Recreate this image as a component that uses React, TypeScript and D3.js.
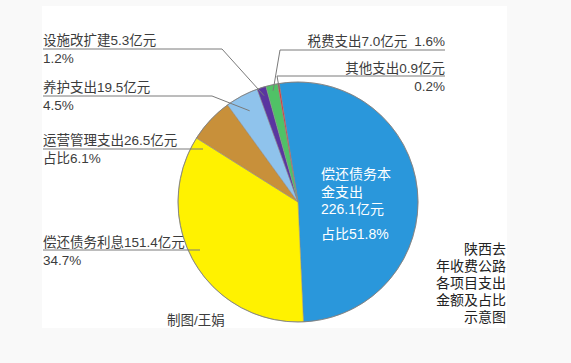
import React from "react";
import { pie, arc } from "d3";

// 陕西去年收费公路各项目支出 (亿元)
const items = ["偿还债务本金支出", "偿还债务利息", "运营管理支出", "养护支出", "设施改扩建", "税费支出", "其他支出"];
const amounts = [226.1, 151.4, 26.5, 19.5, 5.3, 7.0, 0.9];
const shares = ["占比51.8%", "34.7%", "占比6.1%", "4.5%", "1.2%", "1.6%", "0.2%"];
const colors = ["#2a97db", "#fff200", "#c8903a", "#8fc3ec", "#5a35a0", "#50c266", "#e42a2a"];
const titleLines = ["陕西去", "年收费公路", "各项目支出", "金额及占比", "示意图"];
const credit = "制图/王娟";

const W = 571;
const H = 363;
const cx = 298;
const cy = 202;
const R = 120;
const FONT = "'Liberation Sans', 'Noto Sans CJK SC', sans-serif";
const TXT = "#3c3c3c";
const LINE = "#7a7a7a";
const FS = 13.5;

export default function App() {
  const slices = pie<number>()
    .sort(null)
    .startAngle((-9 * Math.PI) / 180)
    .endAngle(((360 - 9) * Math.PI) / 180)(amounts);
  const arcGen = arc<any>().innerRadius(0).outerRadius(R);

  // point inside a slice at a fraction of the radius
  const anchor = (i: number, f: number) => {
    const s = slices[i];
    const a = (s.startAngle + s.endAngle) / 2;
    return [cx + Math.sin(a) * R * f, cy - Math.cos(a) * R * f];
  };

  // left side labels: index, baseline of first line, underline y, underline end x
  const leftLabels = [
    { i: 4, y: 45, ly: 49, lx: 222, f: 0.93 },
    { i: 3, y: 92, ly: 96, lx: 212, f: 0.86 },
    { i: 2, y: 145, ly: 149, lx: 203, f: 0 },
    { i: 1, y: 247, ly: 250, lx: 200, f: 0 },
  ];

  const green = anchor(5, 0.95);
  const red = anchor(6, 0.95);

  return (
    <svg
      width={W}
      height={H}
      style={{ position: "absolute", left: 0, top: 0, fontFamily: FONT }}
    >
      <rect x={0} y={0} width={W} height={H} fill="#f9f9f9" />
      <rect x={42} y={6} width={465} height={322} fill="#ffffff" />

      <g transform={`translate(${cx},${cy})`}>
        {slices.map((s, i) => (
          <path
            key={i}
            d={arcGen(s) || ""}
            fill={colors[i]}
            stroke="#8a8a8a"
            strokeWidth={0.5}
          />
        ))}
        <circle r={R} fill="none" stroke="#7c7c7c" strokeWidth={0.8} />
      </g>

      {/* left labels */}
      {leftLabels.map((l) => {
        const [ax, ay] = anchor(l.i, l.f);
        const pts =
          l.f > 0
            ? `43,${l.ly} ${l.lx},${l.ly} ${ax},${ay}`
            : `43,${l.ly} ${l.lx},${l.ly}`;
        return (
          <g key={l.i}>
            <polyline points={pts} fill="none" stroke={LINE} strokeWidth={1} />
            <text x={43} y={l.y} fontSize={FS} fill={TXT}>
              {items[l.i]}
              {amounts[l.i].toFixed(1)}亿元
            </text>
            <text x={43} y={l.y + 18} fontSize={FS} fill={TXT}>
              {shares[l.i]}
            </text>
          </g>
        );
      })}

      {/* right labels */}
      <polyline
        points={`445,50 280,50 ${green[0]},${green[1]}`}
        fill="none"
        stroke={LINE}
        strokeWidth={1}
      />
      <text x={445} y={46} fontSize={FS} fill={TXT} textAnchor="end">
        {items[5]}
        {amounts[5].toFixed(1)}亿元
        <tspan dx={7}>{shares[5]}</tspan>
      </text>
      <polyline
        points={`445,76 277,76 ${red[0]},${red[1]}`}
        fill="none"
        stroke={LINE}
        strokeWidth={1}
      />
      <text x={445} y={73} fontSize={FS} fill={TXT} textAnchor="end">
        {items[6]}
        {amounts[6].toFixed(1)}亿元
      </text>
      <text x={445} y={91} fontSize={FS} fill={TXT} textAnchor="end">
        {shares[6]}
      </text>

      {/* label inside the biggest slice */}
      <g fontSize={14} fill="#ffffff">
        <text x={321} y={179}>{items[0].slice(0, 5)}</text>
        <text x={321} y={197}>{items[0].slice(5)}</text>
        <text x={321} y={214}>{amounts[0].toFixed(1)}亿元</text>
        <text x={321} y={239}>{shares[0]}</text>
      </g>

      {/* title */}
      {titleLines.map((t, i) => (
        <text
          key={i}
          x={506}
          y={254 + i * 17}
          fontSize={14}
          fill="#222"
          textAnchor="end"
        >
          {t}
        </text>
      ))}
      <text x={167} y={325} fontSize={FS} fill={TXT}>
        {credit}
      </text>
    </svg>
  );
}
